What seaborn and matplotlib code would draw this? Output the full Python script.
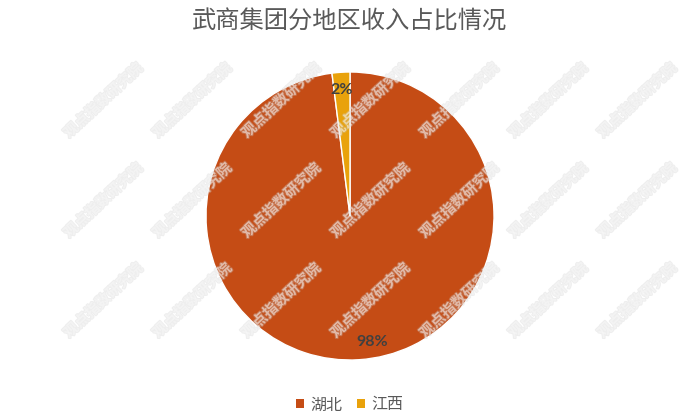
import matplotlib
matplotlib.use('Agg')
import matplotlib.pyplot as plt
import matplotlib.patheffects as pe
from matplotlib.patches import Patch
import seaborn as sns

regions = ['湖北', '江西']
shares = [98, 2]
colors = ['#C54C15', '#E9A20B']
title = '武商集团分地区收入占比情况'
watermark = '观点指数研究院'


def main():
    sns.set_theme(style='white')
    plt.rcParams['font.family'] = ['Noto Sans CJK SC', 'DejaVu Sans']

    fig = plt.figure(figsize=(7, 4.2), dpi=100)
    fig.patch.set_facecolor('white')

    # pie centred at about (350, 216) px with radius 144 px
    ax = fig.add_axes([206 / 700, 60 / 420, 288 / 700, 288 / 420])
    wedges, texts, autotexts = ax.pie(
        shares, colors=colors, startangle=90, counterclock=False,
        autopct='%.0f%%', pctdistance=0.88,
        wedgeprops={'edgecolor': 'white', 'linewidth': 1.0},
        textprops={'fontsize': 11.5, 'color': '#404040'})
    for t in autotexts:
        t.set_fontfamily(['Lato', 'DejaVu Sans'])
        t.set_fontweight('bold')
    # excel's best-fit nudges the big label a little to the right
    x, y = autotexts[0].get_position()
    autotexts[0].set_position((x + 0.1, y))
    ax.set_xlim(-1, 1)
    ax.set_ylim(-1, 1)
    ax.set_aspect('equal')
    ax.axis('off')

    fig.text(0.5, 1 - 22 / 420, title, ha='center', va='center',
             fontsize=17.5, color='#595959')

    handles = [Patch(facecolor=c, edgecolor='none') for c in colors]
    fig.legend(handles, regions, loc='center', bbox_to_anchor=(0.5, 1 - 405 / 420),
               ncol=2, frameon=False, fontsize=11.5, handlelength=0.5,
               handleheight=0.5, handletextpad=0.4, columnspacing=0.9,
               labelcolor='#595959')

    # watermark grid
    for yy in [100, 200, 300]:
        for k in range(7):
            xx = 103 + 89 * k
            fig.text(xx / 700, 1 - yy / 420, watermark, ha='center', va='center',
                     rotation=43, fontsize=10.5, fontweight='bold', color='white',
                     alpha=0.35, zorder=10,
                     path_effects=[pe.withStroke(linewidth=1.4, foreground='#c8c8c8', alpha=0.3)])

    fig.savefig('out.png', dpi=100, facecolor='white')


if __name__ == '__main__':
    main()
